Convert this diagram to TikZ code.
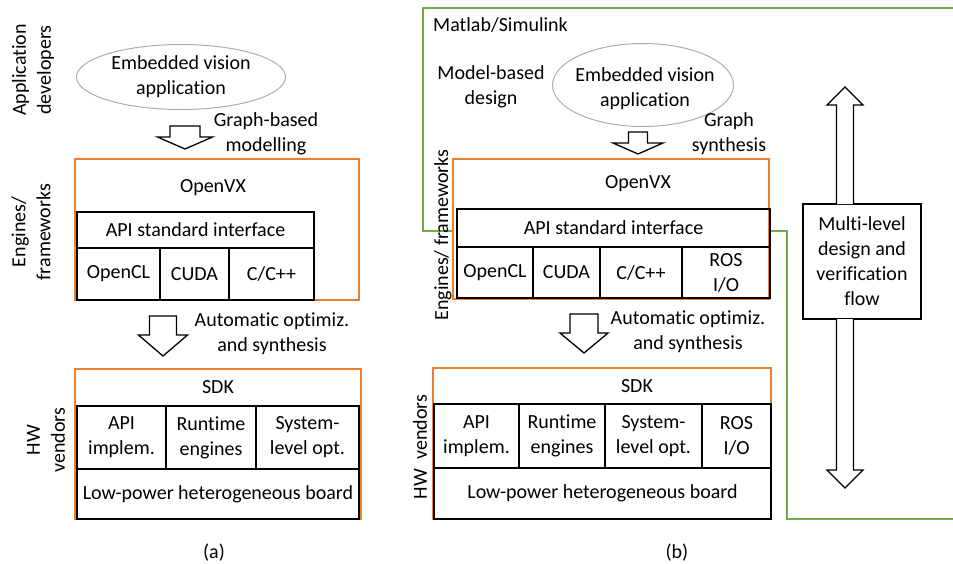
\documentclass[tikz,border=0pt]{standalone}
\usepackage{fontspec}
\setmainfont{Carlito}[Ligatures={NoCommon}]
\usepackage{tikz}
\usetikzlibrary{shapes.geometric, positioning}

\definecolor{vxorange}{RGB}{237,125,49}
\definecolor{simgreen}{RGB}{112,173,71}

% block arrow pointing down: x, top, head, tip, half shaft, half head
\newcommand{\blockdown}[6]{%
  \draw[blockarrow] (#1-#5,#2) -- (#1+#5,#2) -- (#1+#5,#3) -- (#1+#6,#3) -- (#1,#4) -- (#1-#6,#3) -- (#1-#5,#3) -- cycle;}

\begin{document}
\begin{tikzpicture}[x=1pt, y=-1pt, font=\fontsize{20}{25}\selectfont]

\tikzstyle{cell} = [rectangle, draw=black, line width=1.3pt, outer sep=0pt, inner sep=0pt, align=center]
\tikzstyle{frame} = [rectangle, draw=vxorange, line width=1.3pt, outer sep=0pt, inner sep=0pt]
\tikzstyle{app} = [ellipse, draw=gray!65, line width=1pt, inner sep=0pt]
\tikzstyle{txt} = [align=center, inner sep=0pt]
\tikzstyle{side} = [align=center, inner sep=0pt, rotate=90]
\tikzstyle{blockarrow} = [draw=black, line width=1.3pt, fill=white, line join=miter]

\useasboundingbox (0,0) rectangle (953,563);

% part a: application
\node (app_a)[app, minimum width=209pt, minimum height=65pt] at (181,77) {};
\node (apptext_a)[txt] at (app_a.center) {Embedded vision\\application};
\node (appdev_a)[side] at (33,70) {Application\\developers};
\node (graph_a)[txt] at (266,134) {Graph-based\\modelling};
\blockdown{185}{126}{137}{149}{15}{27.5}

% part a: engines
\node (vx_a)[frame, minimum width=284pt, minimum height=141pt] at (217,229.5) {};
\node (openvx_a)[txt] at (213,188) {OpenVX};
\node (api_a)[cell, minimum width=237pt, minimum height=36pt] at (195.5,230) {API standard interface};
\node (opencl_a)[cell, minimum width=83pt, minimum height=52pt, anchor=north west] at (api_a.south west) {OpenCL};
\node (cuda_a)[cell, minimum width=69pt, minimum height=52pt, right=0pt of opencl_a] {CUDA};
\node (cpp_a)[cell, minimum width=85pt, minimum height=52pt, right=0pt of cuda_a] {C/C++};
\node (engines_a)[side] at (31,232) {Engines/\\frameworks};

\node (auto_a)[txt] at (272,334) {Automatic optimiz.\\and synthesis};
\blockdown{163}{316}{335}{356}{13.5}{24.5}

% part a: hw
\node (sdk_a)[frame, minimum width=286pt, minimum height=150pt] at (218,444) {};
\node (sdktext_a)[txt] at (218,387) {SDK};
\node (apiimpl_a)[cell, minimum width=89pt, minimum height=63pt, anchor=north west] at (77,406) {API\\implem.};
\node (runtime_a)[cell, minimum width=90pt, minimum height=63pt, right=0pt of apiimpl_a] {Runtime\\engines};
\node (sysopt_a)[cell, minimum width=103pt, minimum height=63pt, right=0pt of runtime_a] {System-\\level opt.};
\node (board_a)[cell, minimum width=282pt, minimum height=50pt, anchor=north west] at (apiimpl_a.south west) {Low-power heterogeneous board};
\node (hw_a)[side] at (46,440) {HW\\vendors};

\node (cap_a)[txt] at (214,553) {(a)};

% part b: matlab frame
\draw[simgreen, line width=1.3pt] (953,8) -- (423,8) -- (423,231) -- (453,231);
\draw[simgreen, line width=1.3pt] (769,231) -- (787,231) -- (787,519) -- (953,519);
\node (matlab_b)[txt, anchor=west] at (433,25) {Matlab/Simulink};
\node (model_b)[txt] at (491,87) {Model-based\\design};

% part b: application
\node (app_b)[app, minimum width=181pt, minimum height=83pt] at (643,85) {};
\node (apptext_b)[txt] at (645,89) {Embedded vision\\application};
\node (graph_b)[txt] at (729,134) {Graph\\synthesis};
\blockdown{638}{132}{143}{154}{9.5}{25}

% part b: engines
\node (vx_b)[frame, minimum width=316pt, minimum height=140pt] at (611,229) {};
\node (openvx_b)[txt] at (638,184) {OpenVX};
\node (api_b)[cell, minimum width=313pt, minimum height=38pt] at (613.5,228) {API standard interface};
\node (opencl_b)[cell, minimum width=76pt, minimum height=51pt, anchor=north west] at (api_b.south west) {OpenCL};
\node (cuda_b)[cell, minimum width=67pt, minimum height=51pt, right=0pt of opencl_b] {CUDA};
\node (cpp_b)[cell, minimum width=82pt, minimum height=51pt, right=0pt of cuda_b] {C/C++};
\node (ros_b)[cell, minimum width=88pt, minimum height=51pt, right=0pt of cpp_b] {ROS\\I/O};
\node (engines_b)[side] at (443,235) {Engines/ frameworks};

\node (auto_b)[txt] at (688,332) {Automatic optimiz.\\and synthesis};
\blockdown{584}{314}{333}{353}{14}{24}

% part b: hw
\node (sdk_b)[frame, minimum width=338pt, minimum height=151pt] at (602,443.5) {};
\node (sdktext_b)[txt] at (637,386) {SDK};
\node (apiimpl_b)[cell, minimum width=85pt, minimum height=64pt, anchor=north west] at (434,404) {API\\implem.};
\node (runtime_b)[cell, minimum width=86pt, minimum height=64pt, right=0pt of apiimpl_b] {Runtime\\engines};
\node (sysopt_b)[cell, minimum width=97pt, minimum height=64pt, right=0pt of runtime_b] {System-\\level opt.};
\node (rosio_b)[cell, minimum width=69pt, minimum height=64pt, right=0pt of sysopt_b] {ROS\\I/O};
\node (board_b)[cell, minimum width=337pt, minimum height=51pt, anchor=north west] at (apiimpl_b.south west) {Low-power heterogeneous board};
\node (hw_b)[side] at (420,447) {HW\hspace{9pt}vendors};

% part b: flow
\node (flow_b)[cell, minimum width=118pt, minimum height=115pt] at (862,261.5) {Multi-level\\design and\\verification\\flow};
\draw[blockarrow] (flow_b.north -| 836.5,0) -- (836.5,105) -- (827,105) -- (845,87) -- (863,105) -- (853.5,105) -- (flow_b.north -| 853.5,0);
\draw[blockarrow] (flow_b.south -| 836.5,0) -- (836.5,470) -- (827,470) -- (845,488) -- (863,470) -- (853.5,470) -- (flow_b.south -| 853.5,0);

\node (cap_b)[txt] at (677,553) {(b)};

\end{tikzpicture}
\end{document}
